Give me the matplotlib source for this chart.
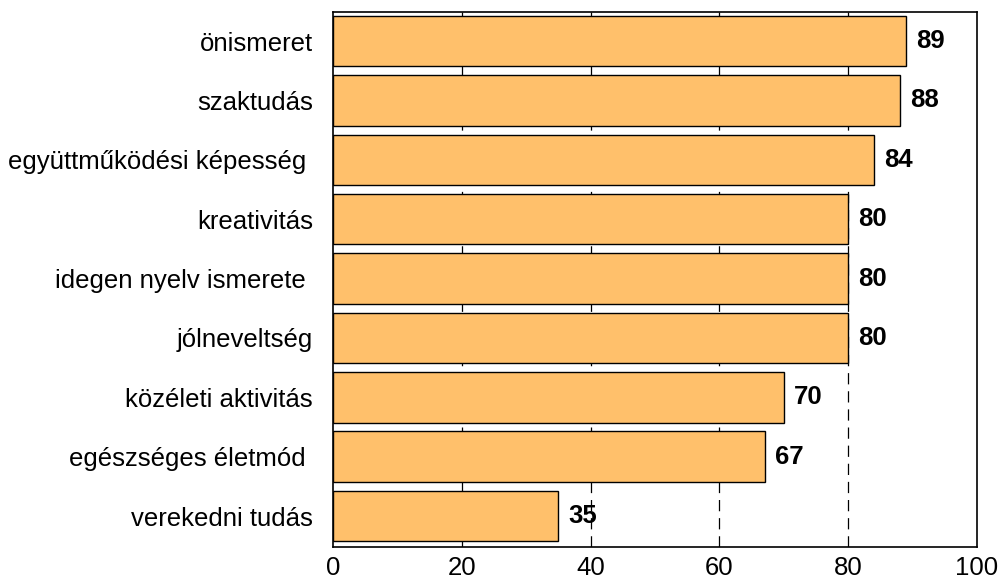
import matplotlib.pyplot as plt

categories = [
    "önismeret",
    "szaktudás",
    "együttműködési képesség ",
    "kreativitás",
    "idegen nyelv ismerete ",
    "jólneveltség",
    "közéleti aktivitás",
    "egészséges életmód ",
    "verekedni tudás",
]
values = [89, 88, 84, 80, 80, 80, 70, 67, 35]
xticks = [0, 20, 40, 60, 80, 100]


def main() -> None:
    plt.rcParams["font.family"] = ["Liberation Sans", "DejaVu Sans"]
    fig = plt.figure(figsize=(9.98, 5.79), dpi=100)
    ax = fig.add_axes([0.3337, 0.0553, 0.979 - 0.3337, 0.9793 - 0.0553])

    y = list(range(len(categories)))
    ax.barh(y, values, height=0.85, color="#FFC06B", edgecolor="black", linewidth=1.0, zorder=3)

    for yi, v in zip(y, values):
        ax.text(v + 1.6, yi, str(v), va="center", ha="left", fontsize=18.5,
                fontweight="bold", zorder=4)

    ax.set_xlim(0, 100)
    ax.set_ylim(8.52, -0.49)
    ax.set_xticks(xticks)
    ax.set_xticklabels([str(t) for t in xticks], fontsize=18.5)
    ax.set_yticks(y)
    ax.set_yticklabels(categories, fontsize=18.5)
    ax.tick_params(axis="both", length=0)
    ax.tick_params(axis="x", pad=6.5)
    ax.tick_params(axis="y", pad=14.5)

    for t in xticks[1:-1]:
        ax.axvline(t, color="black", linestyle=(0, (9, 5.5)), linewidth=0.9, zorder=1)

    for sp in ax.spines.values():
        sp.set_color("black")
        sp.set_linewidth(1.2)

    fig.savefig("out.png", dpi=100)
    plt.close(fig)


if __name__ == "__main__":
    main()
